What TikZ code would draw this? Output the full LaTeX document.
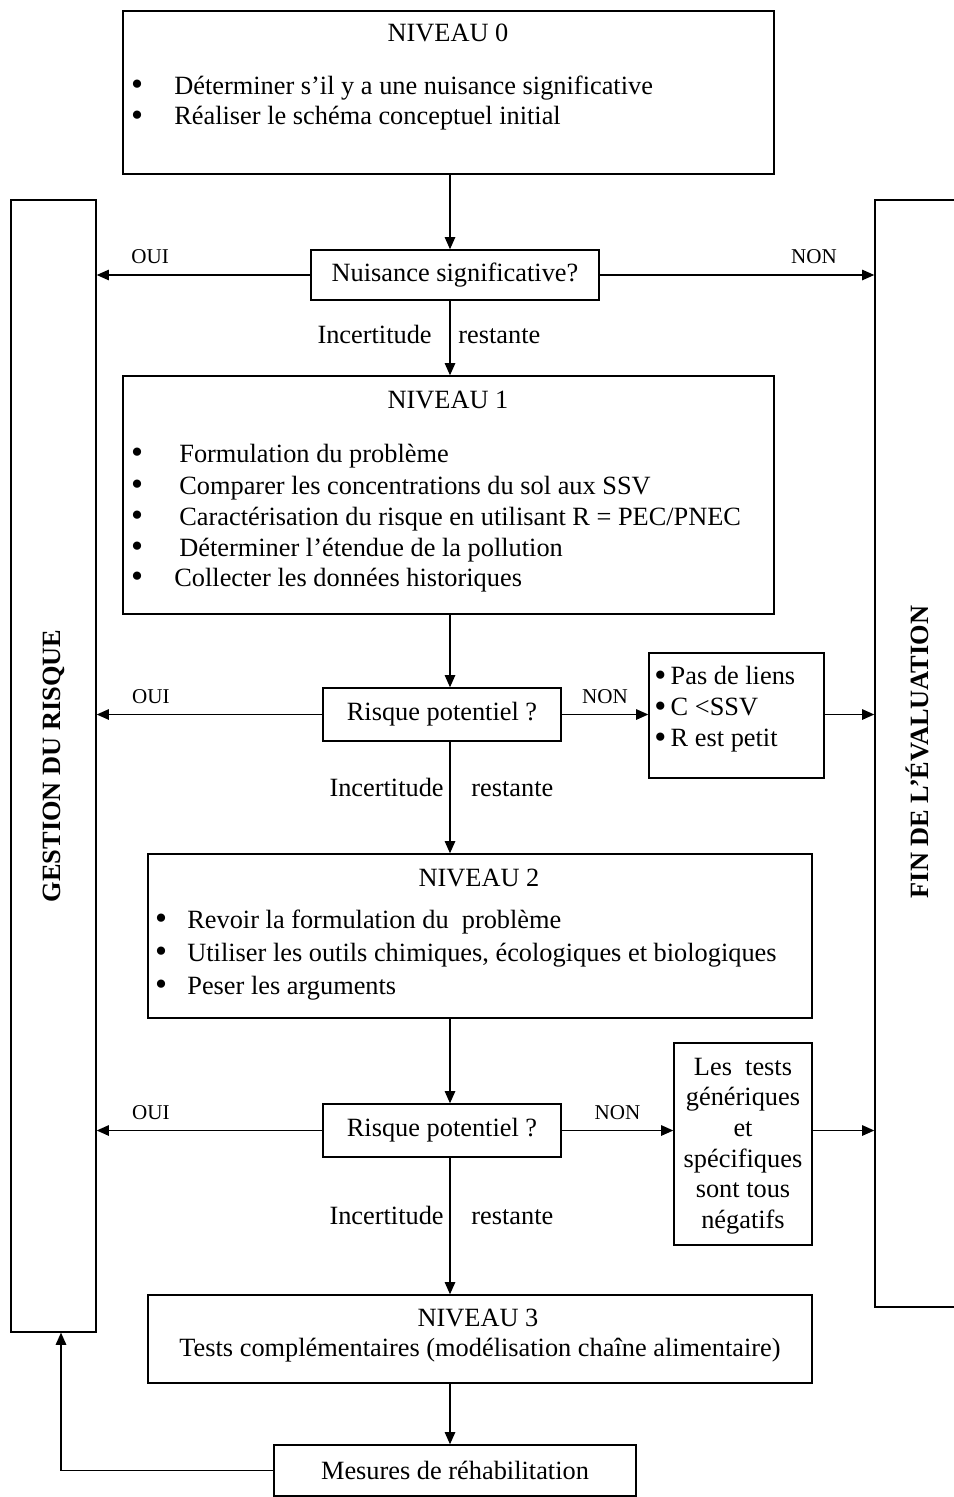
\documentclass[tikz,border=0pt]{standalone}
\usepackage{fontspec}
\usepackage{graphicx}
\setmainfont{Liberation Serif}
\usetikzlibrary{positioning,arrows.meta}

\newcommand{\puce}{\raisebox{-0.07em}{\scalebox{1.3}{\textbullet}}}

\begin{document}
\begin{tikzpicture}[
    x=0.02cm, y=-0.02cm,
    every node/.style={font=\fontsize{15}{17.6}\selectfont},
    cadre/.style={rectangle, draw=black, line width=0.8pt, inner sep=0pt},
    txt/.style={inner sep=0pt},
    question/.style={cadre, minimum height=1.06cm},
    reponse/.style={font=\fontsize{12}{14}\selectfont, inner sep=0pt},
    fleche/.style={-{Triangle[length=7pt,width=6pt]}, line width=0.8pt}
  ]
  \useasboundingbox (0,0) rectangle (953,1497);
  \coordinate (axe) at (450,0);
  \coordinate (retour) at (61,0);

  % colonnes laterales
  \node[cadre, minimum width=1.7cm, minimum height=22.64cm,
        label={[rotate=90, font=\fontsize{15}{17.6}\selectfont\bfseries]center:GESTION DU RISQUE}] (gestion) at (53.5,766) {};
  \node[cadre, minimum width=1.68cm, minimum height=22.14cm] (fin) at (917,753.5) {};
  \node[txt, rotate=90, font=\fontsize{15}{17.6}\selectfont\bfseries] (fintxt) at (917,752) {FIN DE L’ÉVALUATION};

  % niveau 0
  \node[cadre, minimum width=13.02cm, minimum height=3.26cm] (n0) at (448.5,92.5) {};
  \node[txt, anchor=base] (titre0) at (448,42) {NIVEAU 0};
  \foreach \yy/\ligne [count=\i] in {94/{Déterminer s’il y a une nuisance significative}, 125/{Réaliser le schéma conceptuel initial}} {
    \node[txt, anchor=base] (p0-\i) at (137,\yy) {\puce};
    \node[txt, anchor=base west] (l0-\i) at (174,\yy) {\ligne};
  }

  % question 1
  \node[question, minimum width=5.76cm, minimum height=1cm] (q1) at (455,275) {Nuisance significative?};
  \draw[fleche] (n0.south -| axe) -- (q1.north -| axe);
  \draw[fleche] (q1.west) -- (q1.west -| gestion.east) node[reponse, pos=0.75, above=6pt] {OUI};
  \draw[fleche] (q1.east) -- (q1.east -| fin.west) node[reponse, pos=0.78, above=6pt] {NON};
  \node[txt, anchor=base east] (inc1) at (432,343) {Incertitude};
  \node[txt, anchor=base west] (res1) at (458,343) {restante};

  % niveau 1
  \node[cadre, minimum width=13.02cm, minimum height=4.76cm] (n1) at (448.5,495) {};
  \draw[fleche] (q1.south -| axe) -- (n1.north -| axe);
  \node[txt, anchor=base] (titre1) at (448,408) {NIVEAU 1};
  \foreach \yy/\xx/\ligne [count=\i] in {462/179/{Formulation du problème}, 494/179/{Comparer les concentrations du sol aux SSV}, 525/179/{Caractérisation du risque en utilisant R = PEC/PNEC}, 556/179/{Déterminer l’étendue de la pollution}, 586/174/{Collecter les données historiques}} {
    \node[txt, anchor=base] (p1-\i) at (137,\yy) {\puce};
    \node[txt, anchor=base west] (l1-\i) at (\xx,\yy) {\ligne};
  }

  % question 2
  \node[question, minimum width=4.76cm] (q2) at (442,714.5) {Risque potentiel ?};
  \draw[fleche] (n1.south -| axe) -- (q2.north -| axe);
  \node[cadre, minimum width=3.5cm, minimum height=2.5cm] (pas) at (736.5,715.5) {};
  \node[txt, anchor=west, align=left] (pastxt) at (654,709) {\puce\,Pas de liens\\\puce\,C <SSV\\\puce\,R est petit};
  \draw[fleche] (q2.west) -- (q2.west -| gestion.east) node[reponse, pos=0.76, above=6pt] {OUI};
  \draw[fleche] (q2.east) -- (q2.east -| pas.west) node[reponse, midway, above=6pt] {NON};
  \draw[fleche] (pas.east |- q2.east) -- (q2.east -| fin.west);
  \node[txt, anchor=base east] (inc2) at (444,796) {Incertitude};
  \node[txt, anchor=base west] (res2) at (471,796) {restante};

  % niveau 2
  \node[cadre, minimum width=13.28cm, minimum height=3.28cm] (n2) at (480,936) {};
  \draw[fleche] (q2.south -| axe) -- (n2.north -| axe);
  \node[txt, anchor=base] (titre2) at (479,886) {NIVEAU 2};
  \foreach \yy/\ligne [count=\i] in {928/{Revoir la formulation du~ problème}, 961/{Utiliser les outils chimiques, écologiques et biologiques}, 994/{Peser les arguments}} {
    \node[txt, anchor=base] (p2-\i) at (161,\yy) {\puce};
    \node[txt, anchor=base west] (l2-\i) at (187,\yy) {\ligne};
  }

  % question 3
  \node[question, minimum width=4.76cm] (q3) at (442,1130.5) {Risque potentiel ?};
  \draw[fleche] (n2.south -| axe) -- (q3.north -| axe);
  \node[cadre, minimum width=2.76cm, minimum height=4.04cm] (tests) at (743,1144) {};
  \node[txt, align=center, font=\fontsize{15}{17.4}\selectfont] (teststxt) at (743,1146) {Les~ tests\\génériques\\et\\spécifiques\\sont tous\\négatifs};
  \draw[fleche] (q3.west) -- (q3.west -| gestion.east) node[reponse, pos=0.76, above=6pt] {OUI};
  \draw[fleche] (q3.east) -- (q3.east -| tests.west) node[reponse, midway, above=6pt] {NON};
  \draw[fleche] (tests.east |- q3.east) -- (q3.east -| fin.west);
  \node[txt, anchor=base east] (inc3) at (444,1224) {Incertitude};
  \node[txt, anchor=base west] (res3) at (471,1224) {restante};

  % niveau 3
  \node[cadre, minimum width=13.28cm, minimum height=1.76cm] (n3) at (480,1339) {};
  \draw[fleche] (q3.south -| axe) -- (n3.north -| axe);
  \node[txt, anchor=base] (titre3) at (478,1326) {NIVEAU 3};
  \node[txt, anchor=base] (l3) at (480,1356) {Tests complémentaires (modélisation chaîne alimentaire)};

  % rehabilitation
  \node[cadre, minimum width=7.24cm, minimum height=1.02cm] (mesures) at (455,1470.5) {Mesures de réhabilitation};
  \draw[fleche] (n3.south -| axe) -- (mesures.north -| axe);
  \draw[fleche] (mesures.west) -- (mesures.west -| retour) -- (retour |- gestion.south);
\end{tikzpicture}
\end{document}
